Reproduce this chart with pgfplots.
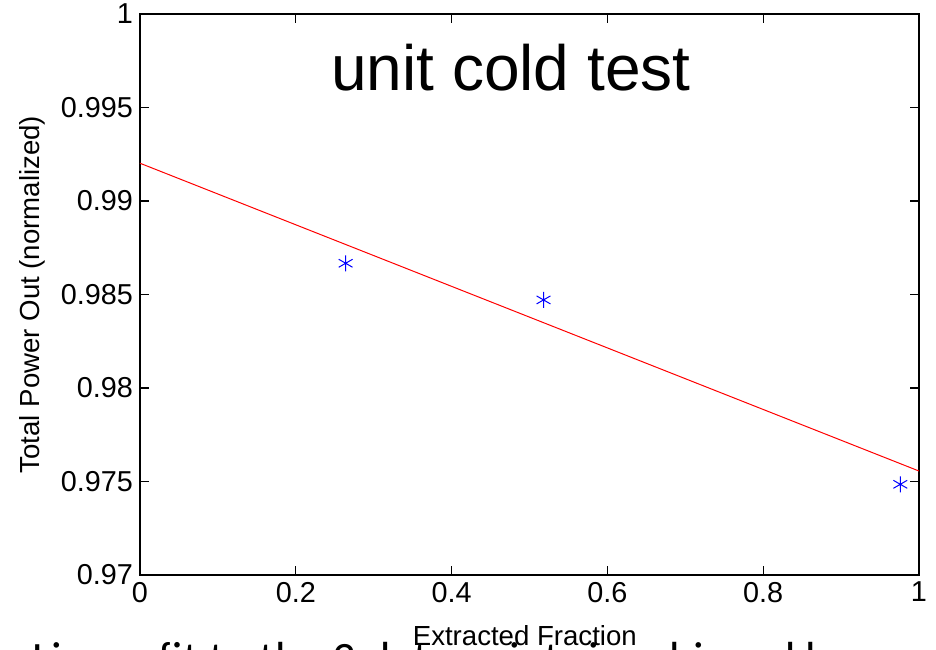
\documentclass[border=0pt]{standalone}
\usepackage{fontspec}
\setmainfont{Liberation Sans}
\newfontfamily\slidefont{Carlito}
\usepackage{pgfplots}
\pgfplotsset{compat=1.18}

\begin{document}
\begin{tikzpicture}
\begin{axis}[
  at={(0,0)}, anchor=south west,
  scale only axis,
  width=389.5pt, height=280.5pt,
  xmin=0, xmax=1, ymin=0.97, ymax=1,
  xtick={0,0.2,...,1},
  ytick={0.97,0.975,...,1.001},
  tick align=inside,
  tick pos=both,
  major tick length=4.5pt,
  axis line style={line width=0.6pt},
  every tick/.style={black, line width=0.6pt},
  tick label style={font=\fontsize{14.4}{17}\selectfont},
  /pgf/number format/assume math mode=true,
  yticklabel style={/pgf/number format/.cd, fixed, precision=3},
  xticklabel style={/pgf/number format/.cd, fixed, precision=1},
  xlabel={Extracted Fraction},
  ylabel={Total Power Out (normalized)},
  label style={font=\fontsize{13.8}{16}\selectfont},
  xlabel style={at={(axis description cs:0.494,-0.1248)}, anchor=base},
  ylabel style={at={(axis description cs:-0.1386,0.5)}, anchor=center, rotate=0},
  clip=false,
]
% linear fit
\addplot[red, line width=0.5pt] coordinates {(0,0.99202) (1,0.97556)};
% measured points
\addplot[only marks, blue, mark=asterisk, mark size=4pt, mark options={line width=0.5pt}]
  coordinates {(0.264,0.98667) (0.518,0.98471) (0.976,0.97485)};
\node[anchor=base, font=\fontsize{32}{38}\selectfont] at (axis description cs:0.476,0.8645) {unit cold test};
\end{axis}
% slide text below the chart, cut off by the page edge
\node[anchor=base west, inner sep=0pt, font=\slidefont\fontsize{23.2}{28}\selectfont]
  at (-54pt,-49.5pt) {Linear fit to the 3 data points is achieved by};
\pgfresetboundingbox
\useasboundingbox (-70pt,-37pt) rectangle (398pt,287.5pt);
\end{tikzpicture}
\end{document}
